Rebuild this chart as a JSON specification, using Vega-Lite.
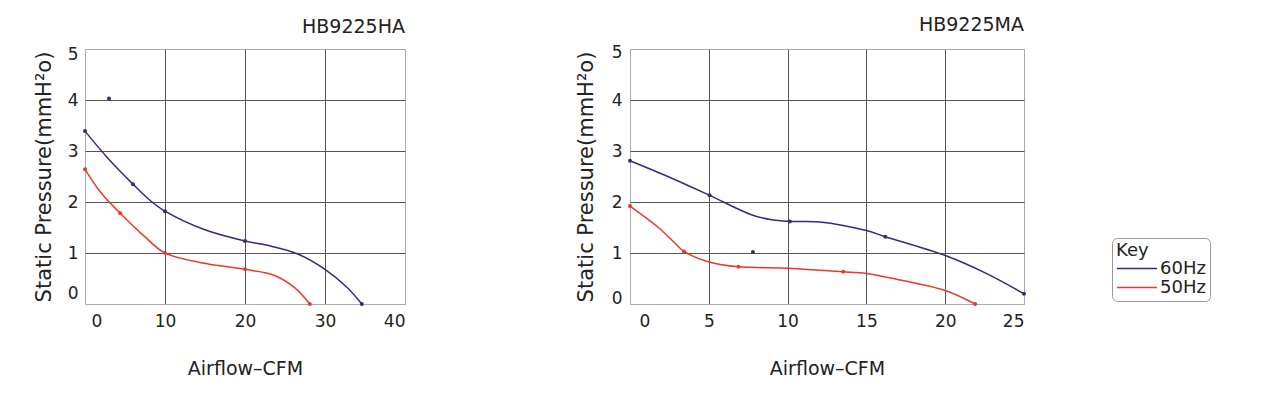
{
  "$schema": "https://vega.github.io/schema/vega-lite/v6.json",
  "background": "white",
  "padding": {"left": 32, "top": 15, "right": 5, "bottom": 5},
  "spacing": 168,
  "config": {
    "font": "DejaVu Sans",
    "view": {"stroke": "#aaa", "strokeWidth": 1},
    "axis": {"domain": false, "ticks": false, "labelFontSize": 17, "labelColor": "#222", "titleFontSize": 20, "titleFontWeight": "normal", "titleColor": "#222", "gridWidth": 1},
    "title": {"fontSize": 19, "fontWeight": "normal", "anchor": "end", "color": "#222", "frame": "group"}
  },
  "datasets": {
    "ha_curve": [
      {"series": "60Hz", "cfm": 0, "pressure": 3.39},
      {"series": "60Hz", "cfm": 2.8, "pressure": 2.87},
      {"series": "60Hz", "cfm": 6, "pressure": 2.35},
      {"series": "60Hz", "cfm": 8, "pressure": 2.05},
      {"series": "60Hz", "cfm": 10, "pressure": 1.82},
      {"series": "60Hz", "cfm": 14.9, "pressure": 1.46},
      {"series": "60Hz", "cfm": 20, "pressure": 1.235},
      {"series": "60Hz", "cfm": 22.8, "pressure": 1.15},
      {"series": "60Hz", "cfm": 26.6, "pressure": 0.98},
      {"series": "60Hz", "cfm": 30, "pressure": 0.68},
      {"series": "60Hz", "cfm": 32.8, "pressure": 0.32},
      {"series": "60Hz", "cfm": 34.6, "pressure": 0},
      {"series": "50Hz", "cfm": 0, "pressure": 2.64},
      {"series": "50Hz", "cfm": 2, "pressure": 2.18},
      {"series": "50Hz", "cfm": 4.4, "pressure": 1.78},
      {"series": "50Hz", "cfm": 7.4, "pressure": 1.33},
      {"series": "50Hz", "cfm": 10, "pressure": 1.0},
      {"series": "50Hz", "cfm": 14.9, "pressure": 0.8},
      {"series": "50Hz", "cfm": 20, "pressure": 0.68},
      {"series": "50Hz", "cfm": 23.7, "pressure": 0.56},
      {"series": "50Hz", "cfm": 26.2, "pressure": 0.32},
      {"series": "50Hz", "cfm": 28.1, "pressure": 0}
    ],
    "ha_dots": [
      {"series": "60Hz", "cfm": 0, "pressure": 3.39},
      {"series": "60Hz", "cfm": 6, "pressure": 2.35},
      {"series": "60Hz", "cfm": 10, "pressure": 1.82},
      {"series": "60Hz", "cfm": 20, "pressure": 1.235},
      {"series": "60Hz", "cfm": 34.6, "pressure": 0},
      {"series": "60Hz", "cfm": 3, "pressure": 4.03},
      {"series": "50Hz", "cfm": 0, "pressure": 2.64},
      {"series": "50Hz", "cfm": 4.4, "pressure": 1.78},
      {"series": "50Hz", "cfm": 10, "pressure": 1.0},
      {"series": "50Hz", "cfm": 20, "pressure": 0.68},
      {"series": "50Hz", "cfm": 28.1, "pressure": 0}
    ],
    "ma_curve": [
      {"series": "60Hz", "cfm": 0, "pressure": 2.81},
      {"series": "60Hz", "cfm": 2.4, "pressure": 2.5},
      {"series": "60Hz", "cfm": 5.05, "pressure": 2.13},
      {"series": "60Hz", "cfm": 7.7, "pressure": 1.75},
      {"series": "60Hz", "cfm": 9, "pressure": 1.65},
      {"series": "60Hz", "cfm": 10.14, "pressure": 1.62},
      {"series": "60Hz", "cfm": 12.06, "pressure": 1.61},
      {"series": "60Hz", "cfm": 15, "pressure": 1.44},
      {"series": "60Hz", "cfm": 16.2, "pressure": 1.32},
      {"series": "60Hz", "cfm": 20.05, "pressure": 0.945},
      {"series": "60Hz", "cfm": 22.6, "pressure": 0.6},
      {"series": "60Hz", "cfm": 25, "pressure": 0.2},
      {"series": "50Hz", "cfm": 0, "pressure": 1.92},
      {"series": "50Hz", "cfm": 1.8, "pressure": 1.5},
      {"series": "50Hz", "cfm": 2.86, "pressure": 1.19},
      {"series": "50Hz", "cfm": 3.43, "pressure": 1.03},
      {"series": "50Hz", "cfm": 5.06, "pressure": 0.82},
      {"series": "50Hz", "cfm": 6.88, "pressure": 0.73},
      {"series": "50Hz", "cfm": 10, "pressure": 0.7},
      {"series": "50Hz", "cfm": 12.06, "pressure": 0.66},
      {"series": "50Hz", "cfm": 13.53, "pressure": 0.63},
      {"series": "50Hz", "cfm": 15, "pressure": 0.6},
      {"series": "50Hz", "cfm": 17.77, "pressure": 0.43},
      {"series": "50Hz", "cfm": 20.05, "pressure": 0.26},
      {"series": "50Hz", "cfm": 21.9, "pressure": 0}
    ],
    "ma_dots": [
      {"series": "60Hz", "cfm": 0, "pressure": 2.81},
      {"series": "60Hz", "cfm": 5.05, "pressure": 2.13},
      {"series": "60Hz", "cfm": 10.14, "pressure": 1.62},
      {"series": "60Hz", "cfm": 16.2, "pressure": 1.32},
      {"series": "60Hz", "cfm": 25, "pressure": 0.2},
      {"series": "60Hz", "cfm": 7.8, "pressure": 1.02},
      {"series": "50Hz", "cfm": 0, "pressure": 1.92},
      {"series": "50Hz", "cfm": 3.43, "pressure": 1.03},
      {"series": "50Hz", "cfm": 6.88, "pressure": 0.73},
      {"series": "50Hz", "cfm": 13.53, "pressure": 0.63},
      {"series": "50Hz", "cfm": 21.9, "pressure": 0}
    ]
  },
  "hconcat": [
    {
      "title": {"text": "HB9225HA", "offset": 8},
      "width": 320,
      "height": 255,
      "encoding": {
        "x": {"field": "cfm", "type": "quantitative", "scale": {"domain": [0, 40], "nice": false},
          "axis": {"title": "Airflow–CFM", "titleFontSize": 19, "values": [0, 10, 20, 30, 40], "labelPadding": 9, "titlePadding": 30,
            "labelOffset": {"condition": {"test": "datum.value == 0", "value": 6}, "value": 0},
            "gridColor": {"condition": {"test": "datum.value == 0 || datum.value == 40", "value": "#aaa"}, "value": "#555"}}},
        "y": {"field": "pressure", "type": "quantitative", "scale": {"domain": [0, 5], "nice": false},
          "axis": {"title": "Static Pressure(mmH²o)", "titleFontSize": 21, "values": [0, 1, 2, 3, 4, 5], "labelPadding": 7, "titlePadding": 13,
            "labelOffset": {"condition": [{"test": "datum.value == 0", "value": -11}, {"test": "datum.value == 5", "value": 5}], "value": 0},
            "gridColor": {"condition": {"test": "datum.value == 0 || datum.value == 5", "value": "#aaa"}, "value": "#555"}}},
        "color": {"field": "series", "type": "nominal", "scale": {"domain": ["60Hz", "50Hz"], "range": ["#2e2d80", "#e53a2f"]},
          "legend": {"title": "Key", "orient": "none", "legendX": 1027, "legendY": 189, "symbolType": "stroke", "symbolSize": 1600, "symbolStrokeWidth": 1.5, "clipHeight": 17,
            "labelFontSize": 18, "titleFontSize": 18, "titleFontWeight": "normal", "titleColor": "#222", "labelColor": "#222", "strokeColor": "#999", "cornerRadius": 5, "padding": 4, "fillColor": "white", "labelOffset": 2, "rowPadding": 0, "titlePadding": 0}}
      },
      "layer": [
        {"data": {"name": "ha_curve"}, "mark": {"type": "line", "interpolate": "catmull-rom", "strokeWidth": 1.5}, "encoding": {"order": {"field": "cfm", "type": "quantitative"}}},
        {"data": {"name": "ha_dots"}, "mark": {"type": "circle", "size": 16, "opacity": 1}}
      ]
    },
    {
      "title": {"text": "HB9225MA", "offset": 8},
      "width": 394,
      "height": 255,
      "encoding": {
        "x": {"field": "cfm", "type": "quantitative", "scale": {"domain": [0, 25], "nice": false},
          "axis": {"title": "Airflow–CFM", "titleFontSize": 19, "values": [0, 5, 10, 15, 20, 25], "labelPadding": 9, "titlePadding": 30,
            "labelOffset": {"condition": {"test": "datum.value == 0", "value": 9}, "value": 0},
            "gridColor": {"condition": {"test": "datum.value == 0 || datum.value == 25", "value": "#aaa"}, "value": "#555"}}},
        "y": {"field": "pressure", "type": "quantitative", "scale": {"domain": [0, 5], "nice": false},
          "axis": {"title": "Static Pressure(mmH²o)", "titleFontSize": 21, "values": [0, 1, 2, 3, 4, 5], "labelPadding": 8, "titlePadding": 15,
            "labelOffset": {"condition": [{"test": "datum.value == 0", "value": -6}, {"test": "datum.value == 5", "value": 3}], "value": 0},
            "gridColor": {"condition": {"test": "datum.value == 0 || datum.value == 5", "value": "#aaa"}, "value": "#555"}}},
        "color": {"field": "series", "type": "nominal", "scale": {"domain": ["60Hz", "50Hz"], "range": ["#2e2d80", "#e53a2f"]}}
      },
      "layer": [
        {"data": {"name": "ma_curve"}, "mark": {"type": "line", "interpolate": "catmull-rom", "strokeWidth": 1.5}, "encoding": {"order": {"field": "cfm", "type": "quantitative"}}},
        {"data": {"name": "ma_dots"}, "mark": {"type": "circle", "size": 16, "opacity": 1}}
      ]
    }
  ],
  "resolve": {"scale": {"x": "independent", "y": "independent"}}
}
